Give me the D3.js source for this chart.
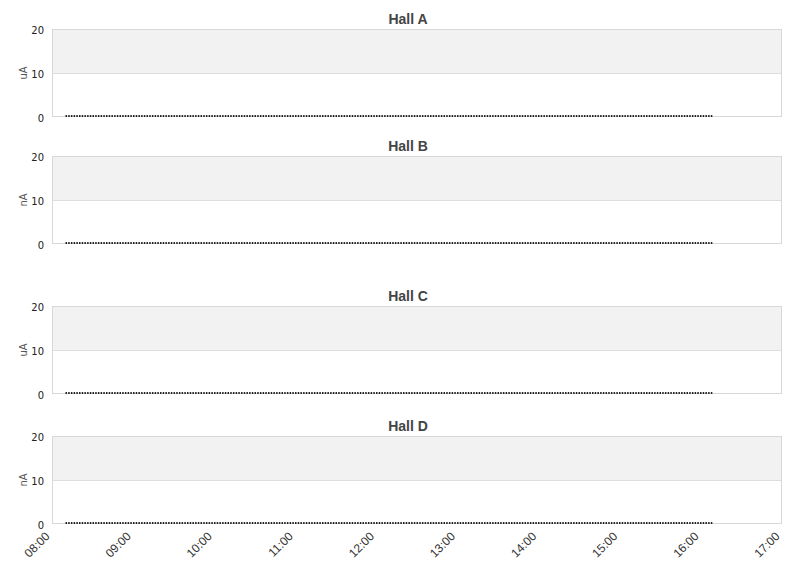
<!DOCTYPE html>
<html>
<head>
<meta charset="utf-8">
<script src="https://cdn.jsdelivr.net/npm/d3@7"></script>
<style>
  body { margin: 0; background: #fff; }
</style>
</head>
<body>
<div id="chart"></div>
<script>
// data: every hall reads 0 all day
var halls = ["Hall A", "Hall B", "Hall C", "Hall D"];
var units = ["uA", "nA", "uA", "nA"];
var yTicks = [0, 10, 20];
var xTickLabels = ["08:00", "09:00", "10:00", "11:00", "12:00", "13:00", "14:00", "15:00", "16:00", "17:00"];
var sampleTimes = ["08:10", "08:40", "09:10", "09:40", "10:10", "10:40", "11:10", "11:40", "12:10",
                   "12:40", "13:10", "13:40", "14:10", "14:40", "15:10", "15:40", "16:09"];
var hallA = [0, 0, 0, 0, 0, 0, 0, 0, 0, 0, 0, 0, 0, 0, 0, 0, 0];
var hallB = [0, 0, 0, 0, 0, 0, 0, 0, 0, 0, 0, 0, 0, 0, 0, 0, 0];
var hallC = [0, 0, 0, 0, 0, 0, 0, 0, 0, 0, 0, 0, 0, 0, 0, 0, 0];
var hallD = [0, 0, 0, 0, 0, 0, 0, 0, 0, 0, 0, 0, 0, 0, 0, 0, 0];
var series = [hallA, hallB, hallC, hallD];

var W = 811, H = 578;
var left = 52, right = 782;
var panelTops = [29, 156, 306, 436];
var panelH = 88;

var parse = d3.timeParse("%H:%M");

var svg = d3.select("#chart").append("svg")
    .attr("width", W)
    .attr("height", H);

var x = d3.scaleTime()
    .domain([parse(xTickLabels[0]), parse(xTickLabels[xTickLabels.length - 1])])
    .range([left, right]);

halls.forEach(function(name, i) {
    var top = panelTops[i];
    var y = d3.scaleLinear().domain([0, 20]).range([top + panelH, top]);
    var g = svg.append("g");

    // alternating band (10..20 shaded)
    g.append("rect")
        .attr("x", left).attr("width", right - left)
        .attr("y", y(20)).attr("height", y(10) - y(20))
        .attr("fill", "#f2f2f2");

    // grid line
    g.append("line")
        .attr("x1", left).attr("x2", right)
        .attr("y1", y(10) + 0.5).attr("y2", y(10) + 0.5)
        .attr("stroke", "#dedede");

    // frame
    g.append("rect")
        .attr("x", left + 0.5).attr("y", y(20) + 0.5)
        .attr("width", right - left - 1).attr("height", y(0) - y(20) - 1)
        .attr("fill", "none")
        .attr("stroke", "#d8d8d8");

    // y axis
    var yAxis = g.append("g")
        .attr("transform", "translate(" + left + ",0)")
        .call(d3.axisLeft(y).tickValues(yTicks).tickSize(0).tickPadding(8));
    yAxis.select(".domain").remove();
    yAxis.selectAll("text")
        .attr("font-family", "DejaVu Sans")
        .attr("font-size", 10)
        .attr("fill", "#222")
        .attr("dy", "0.4em");

    g.append("text")
        .attr("transform", "translate(27," + y(10) + ") rotate(-90)")
        .attr("text-anchor", "middle")
        .attr("font-family", "DejaVu Sans")
        .attr("font-size", 10)
        .attr("fill", "#555")
        .text(units[i]);

    // title
    g.append("text")
        .attr("x", (left + right) / 2 - 9)
        .attr("y", top - 5)
        .attr("text-anchor", "middle")
        .attr("font-family", "Liberation Sans")
        .attr("font-weight", "bold")
        .attr("font-size", 14)
        .attr("fill", "#444")
        .text(name);

    // series (dotted line at the readings)
    var pts = sampleTimes.map(function(t, k) { return { t: parse(t), v: series[i][k] }; });
    g.append("path")
        .datum(pts)
        .attr("d", d3.line().x(function(d) { return x(d.t); }).y(function(d) { return y(d.v) - 1; }))
        .attr("fill", "none")
        .attr("stroke", "#222")
        .attr("stroke-width", 2)
        .attr("stroke-dasharray", "1.5,1.2");
});

// x axis under the last panel
var xAxis = svg.append("g")
    .attr("transform", "translate(0," + (panelTops[3] + panelH) + ")")
    .call(d3.axisBottom(x)
        .tickValues(xTickLabels.map(parse))
        .tickFormat(d3.timeFormat("%H:%M"))
        .tickSize(0));
xAxis.select(".domain").remove();
xAxis.selectAll("text")
    .attr("font-family", "Liberation Sans")
    .attr("font-size", 12)
    .attr("fill", "#333")
    .attr("text-anchor", "end")
    .attr("dy", null)
    .attr("y", 0)
    .attr("transform", "translate(-2,13) rotate(-45)");
</script>
</body>
</html>
